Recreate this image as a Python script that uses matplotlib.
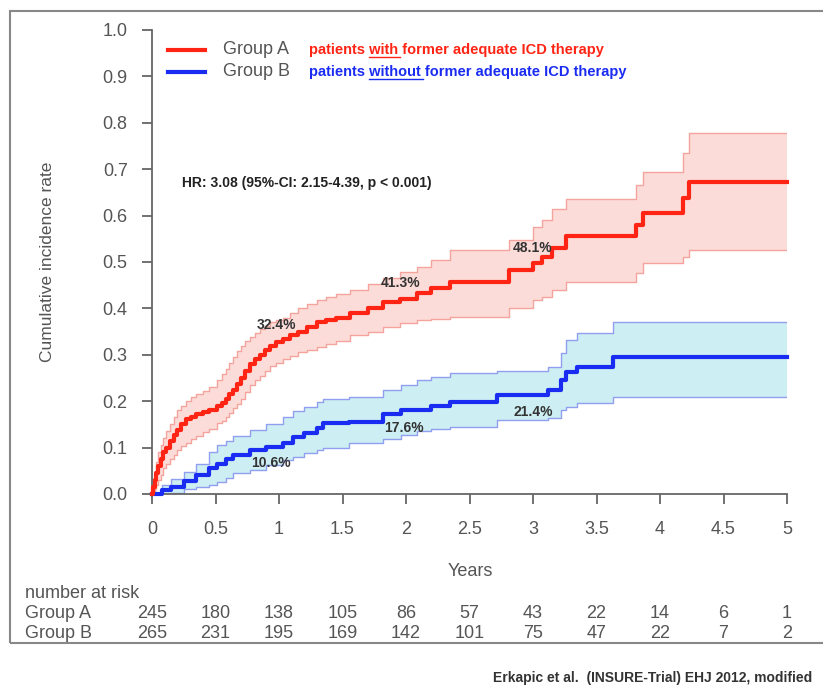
import matplotlib
matplotlib.use('Agg')
import matplotlib.pyplot as plt
import numpy as np
from matplotlib import rcParams
from matplotlib.patches import Rectangle
from matplotlib.lines import Line2D
from matplotlib.transforms import blended_transform_factory

rcParams['font.family'] = ['Liberation Sans', 'DejaVu Sans']

# Gruppo A: tempi (anni), stima, limite inferiore e superiore
t_a = [0, 0.01, 0.02, 0.035, 0.05, 0.07, 0.09, 0.11, 0.14, 0.17, 0.2, 0.23, 0.27,
       0.31, 0.35, 0.4, 0.45, 0.51, 0.55, 0.58, 0.61, 0.64, 0.67, 0.7, 0.73, 0.77,
       0.81, 0.85, 0.89, 0.93, 0.98, 1.03, 1.09, 1.15, 1.22, 1.3, 1.37, 1.45, 1.56,
       1.7, 1.82, 1.95, 2.09, 2.2, 2.35, 2.81, 3.0, 3.07, 3.15, 3.26, 3.81, 3.87,
       4.18, 4.23]
est_a = [0, 0.015, 0.03, 0.045, 0.06, 0.075, 0.09, 0.1, 0.115, 0.128, 0.138, 0.15,
         0.162, 0.167, 0.172, 0.176, 0.18, 0.19, 0.197, 0.205, 0.215, 0.225, 0.237,
         0.25, 0.265, 0.28, 0.29, 0.3, 0.31, 0.32, 0.328, 0.335, 0.343, 0.35, 0.36,
         0.37, 0.375, 0.38, 0.39, 0.4, 0.414, 0.42, 0.433, 0.445, 0.457, 0.483, 0.497,
         0.51, 0.53, 0.556, 0.58, 0.605, 0.638, 0.673]
lo_a = [0, 0.005, 0.01, 0.02, 0.03, 0.042, 0.055, 0.065, 0.075, 0.085, 0.095, 0.103,
        0.11, 0.118, 0.125, 0.133, 0.14, 0.153, 0.158, 0.165, 0.175, 0.185, 0.195,
        0.205, 0.22, 0.235, 0.245, 0.255, 0.265, 0.275, 0.283, 0.29, 0.298, 0.305,
        0.31, 0.317, 0.323, 0.33, 0.343, 0.35, 0.36, 0.368, 0.375, 0.378, 0.382, 0.40,
        0.418, 0.425, 0.44, 0.457, 0.476, 0.497, 0.51, 0.526]
hi_a = [0, 0.03, 0.05, 0.07, 0.09, 0.105, 0.12, 0.135, 0.15, 0.165, 0.18, 0.19, 0.2,
        0.208, 0.215, 0.222, 0.23, 0.246, 0.258, 0.27, 0.283, 0.295, 0.308, 0.32, 0.33,
        0.338, 0.346, 0.355, 0.362, 0.37, 0.375, 0.38, 0.39, 0.4, 0.41, 0.418, 0.424,
        0.43, 0.44, 0.452, 0.465, 0.478, 0.49, 0.505, 0.526, 0.547, 0.575, 0.59, 0.615,
        0.636, 0.666, 0.694, 0.735, 0.777]

# Gruppo B
t_b = [0, 0.08, 0.15, 0.25, 0.35, 0.45, 0.51, 0.58, 0.64, 0.77, 0.9, 1.03, 1.11, 1.2,
       1.3, 1.35, 1.55, 1.82, 1.96, 2.09, 2.2, 2.35, 2.72, 3.12, 3.22, 3.26, 3.35, 3.63]
est_b = [0, 0.008, 0.015, 0.028, 0.04, 0.055, 0.065, 0.075, 0.085, 0.095, 0.102, 0.11,
         0.123, 0.132, 0.142, 0.152, 0.155, 0.172, 0.18, 0.182, 0.19, 0.198, 0.213,
         0.224, 0.245, 0.263, 0.274, 0.295]
lo_b = [0, 0.0, 0.003, 0.01, 0.015, 0.02, 0.025, 0.035, 0.045, 0.052, 0.062, 0.073,
        0.08, 0.088, 0.095, 0.1, 0.11, 0.118, 0.128, 0.135, 0.14, 0.145, 0.16, 0.164,
        0.18, 0.188, 0.196, 0.209]
hi_b = [0, 0.02, 0.032, 0.048, 0.065, 0.09, 0.105, 0.115, 0.125, 0.138, 0.15, 0.165,
        0.178, 0.188, 0.198, 0.205, 0.21, 0.225, 0.235, 0.245, 0.252, 0.26, 0.265,
        0.274, 0.304, 0.332, 0.347, 0.371]

# Etichette percentuali (x, y, testo)
perc_a = [(0.98, 0.364, '32.4%'), (1.96, 0.455, '41.3%'), (3.0, 0.53, '48.1%')]
perc_b = [(0.94, 0.067, '10.6%'), (1.98, 0.142, '17.6%'), (3.0, 0.177, '21.4%')]

# Numero a rischio
risk_times = [0, 0.5, 1, 1.5, 2, 2.5, 3, 3.5, 4, 4.5, 5]
risk_a = [245, 180, 138, 105, 86, 57, 43, 22, 14, 6, 1]
risk_b = [265, 231, 195, 169, 142, 101, 75, 47, 22, 7, 2]

W, H = 823, 692
fig = plt.figure(figsize=(W / 100, H / 100), dpi=100)
ax = fig.add_axes([152 / W, 1 - 494 / H, 635 / W, 464 / H])

gray = '#666666'
red, red_fill, red_edge = '#ff2414', '#fcdcd8', '#f4a49c'
blue, blue_fill, blue_edge = '#1a2cf2', '#cdeef2', '#909ff0'

def ext(t, v):
    return np.append(t, 5.0), np.append(v, v[-1])

for t, est, lo, hi, c, cf, ce in [(t_b, est_b, lo_b, hi_b, blue, blue_fill, blue_edge),
                                  (t_a, est_a, lo_a, hi_a, red, red_fill, red_edge)]:
    tt, ee = ext(t, est)
    _, ll = ext(t, lo)
    _, hh = ext(t, hi)
    ax.fill_between(tt, ll, hh, step='post', color=cf, lw=0, zorder=1)
    ax.step(tt, ll, where='post', color=ce, lw=1.0, zorder=2)
    ax.step(tt, hh, where='post', color=ce, lw=1.0, zorder=2)
    ax.step(tt, ee, where='post', color=c, lw=3, zorder=3, clip_on=False)

for x, y, s in perc_a + perc_b:
    ax.text(x, y, s, fontsize=10, fontweight='bold', color='#333333',
            ha='center', va='center', zorder=4)

ax.text(0.24, 0.67, 'HR: 3.08 (95%-CI: 2.15-4.39, p < 0.001)', fontsize=10,
        fontweight='bold', color='#222222', ha='left', va='center')

ax.set_xlim(0, 5)
ax.set_ylim(0, 1)
ax.set_xticks(risk_times)
ax.set_xticklabels(['0', '0.5', '1', '1.5', '2', '2.5', '3', '3.5', '4', '4.5', '5'])
ax.set_yticks(np.arange(0, 1.01, 0.1))
ax.set_yticklabels([f'{v:.1f}' for v in np.arange(0, 1.01, 0.1)])
for s in ['top', 'right']:
    ax.spines[s].set_visible(False)
for s in ['left', 'bottom']:
    ax.spines[s].set_color(gray)
    ax.spines[s].set_linewidth(1.3)
ax.tick_params(direction='out', length=7.5, width=1.3, color=gray,
               labelcolor='#555555', labelsize=13)
ax.tick_params(axis='y', pad=10)
ax.tick_params(axis='x', pad=12)

fig.text(48 / W, 1 - 262 / H, 'Cumulative incidence rate', rotation=90,
         fontsize=12.5, color='#555555', ha='center', va='center')
fig.text(470 / W, 1 - 572 / H, 'Years', fontsize=13, color='#555555',
         ha='center', va='center')

# Legenda costruita a mano
r = fig.canvas.get_renderer()

def width(s):
    tmp = fig.text(0, 0, s, fontsize=10.5, fontweight='bold')
    w = tmp.get_window_extent(r).width
    tmp.remove()
    return w

for py, c, name, desc, under in [(50, red, 'Group A', 'patients with former adequate ICD therapy', 'with'),
                                 (72, blue, 'Group B', 'patients without former adequate ICD therapy', 'without')]:
    yf = 1 - py / H
    fig.add_artist(Line2D([168 / W, 205 / W], [yf, yf], color=c, lw=3,
                          transform=fig.transFigure))
    fig.text(223 / W, yf, name, fontsize=13, color='#555555', ha='left', va='center')
    fig.text(309 / W, yf, desc, fontsize=10.5, fontweight='bold', color=c,
             ha='left', va='center')
    # sottolineatura della parola chiave
    x0 = 309 + width('patients ' + under[0]) - width(under[0])
    x1 = 309 + width('patients ' + under) + 2
    fig.add_artist(Line2D([x0 / W, x1 / W], [1 - (py + 7) / H] * 2, color=c, lw=1,
                          transform=fig.transFigure))

# Tabella numero a rischio
fig.text(25 / W, 1 - 594 / H, 'number at risk', fontsize=13, color='#555555',
         ha='left', va='center')
tr = blended_transform_factory(ax.transData, fig.transFigure)
for py, name, vals in [(614, 'Group A', risk_a), (633, 'Group B', risk_b)]:
    fig.text(25 / W, 1 - py / H, name, fontsize=13, color='#555555',
             ha='left', va='center')
    for x, v in zip(risk_times, vals):
        ax.text(x, 1 - py / H, str(v), transform=tr, fontsize=13, color='#555555',
                ha='center', va='center', clip_on=False)

fig.add_artist(Rectangle((10 / W, 1 - 643 / H), 1.0, (643 - 11) / H, fill=False,
                         edgecolor='#888888', lw=1.5, transform=fig.transFigure))

fig.text(812 / W, 1 - 678 / H, 'Erkapic et al.  (INSURE-Trial) EHJ 2012, modified',
         fontsize=10, fontweight='bold', color='#333333', ha='right', va='center')

plt.savefig('out.png', dpi=100)
